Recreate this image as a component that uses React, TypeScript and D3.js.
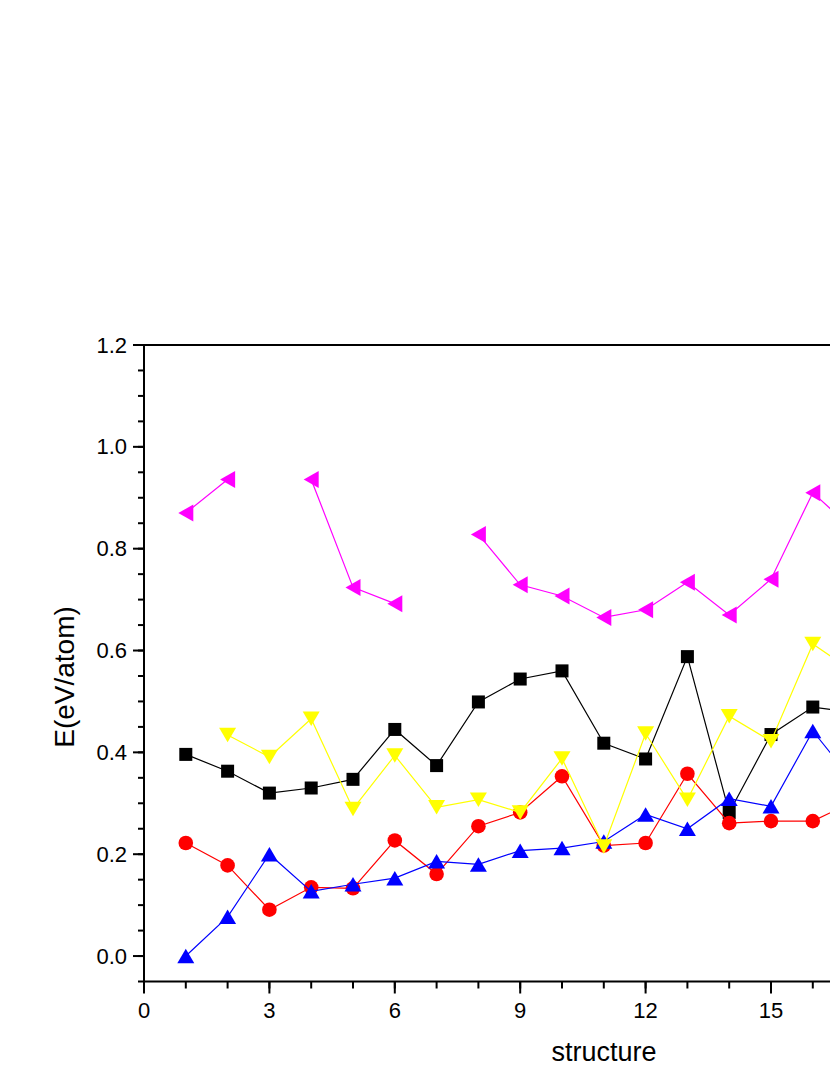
import React from "react";
import * as d3 from "d3";

const structures = [1, 2, 3, 4, 5, 6, 7, 8, 9, 10, 11, 12, 13, 14, 15, 16, 17];
const seriesBlack = [0.396, 0.363, 0.32, 0.33, 0.347, 0.445, 0.374, 0.499, 0.544, 0.56, 0.418, 0.387, 0.588, 0.282, 0.435, 0.489, 0.478];
const seriesRed = [0.222, 0.178, 0.091, 0.135, 0.133, 0.227, 0.161, 0.255, 0.282, 0.353, 0.217, 0.222, 0.358, 0.261, 0.265, 0.265, 0.304];
const seriesBlue = [0.0, 0.077, 0.2, 0.127, 0.141, 0.153, 0.186, 0.18, 0.207, 0.212, 0.225, 0.278, 0.25, 0.309, 0.294, 0.442, 0.34];
const seriesYellow = [null, 0.434, 0.391, 0.466, 0.289, 0.394, 0.292, 0.307, 0.282, 0.388, 0.215, 0.437, 0.307, 0.471, 0.422, 0.613, 0.556];
const seriesMagenta = [0.87, 0.936, null, 0.936, 0.724, 0.692, null, 0.828, 0.729, 0.707, 0.665, 0.68, 0.734, 0.67, 0.74, 0.91, 0.835];

const xTickValues = [0, 3, 6, 9, 12, 15];
const yTickValues = [0.0, 0.2, 0.4, 0.6, 0.8, 1.0, 1.2];

const W = 830;
const H = 1075;
const FONT = "'Liberation Sans', Arial, sans-serif";

type Series = { values: (number | null)[]; color: string; marker: string };

const series: Series[] = [
  { values: seriesBlack, color: "#000000", marker: "square" },
  { values: seriesRed, color: "#FF0000", marker: "circle" },
  { values: seriesBlue, color: "#0000FF", marker: "up" },
  { values: seriesYellow, color: "#FFFF00", marker: "down" },
  { values: seriesMagenta, color: "#FF00FF", marker: "left" },
];

function markerPath(kind: string, cx: number, cy: number): string {
  if (kind === "up") {
    const w = 17, h = 14.5;
    return `M${cx - w / 2},${cy + h / 2}L${cx + w / 2},${cy + h / 2}L${cx},${cy - h / 2}Z`;
  }
  if (kind === "down") {
    const w = 17, h = 14.5;
    return `M${cx - w / 2},${cy - h / 2}L${cx + w / 2},${cy - h / 2}L${cx},${cy + h / 2}Z`;
  }
  const w = 15, h = 17;
  return `M${cx + w / 2},${cy - h / 2}L${cx + w / 2},${cy + h / 2}L${cx - w / 2},${cy}Z`;
}

export default function App() {
  const x = d3.scaleLinear().domain([0, 22]).range([144, 144 + 22 * 41.8]);
  const y = d3.scaleLinear().domain([-0.05, 1.2]).range([981.5, 345]);

  const xMinor = d3.range(0, 23, 1);
  const yMinor = d3.range(-0.05, 1.2001, 0.05);

  const line = d3
    .line<number | null>()
    .defined((d) => d !== null)
    .x((_, i) => x(structures[i]))
    .y((d) => y(d as number));

  const x0 = x(0);
  const yb = y(-0.05);
  const yt = y(1.2);
  const xr = x(22);

  return (
    <svg
      width={W}
      height={H}
      style={{ position: "absolute", left: 0, top: 0, background: "#fff", overflow: "hidden" }}
    >
      <rect x={0} y={0} width={W} height={H} fill="#fff" />
      {series.map((s, si) => (
        <g key={si}>
          <path d={line(s.values) || ""} fill="none" stroke={s.color} strokeWidth={1.2} />
          {s.values.map((v, i) => {
            if (v === null) return null;
            const cx = x(structures[i]);
            const cy = y(v);
            if (s.marker === "square")
              return <rect key={i} x={cx - 6.5} y={cy - 6.5} width={13} height={13} fill={s.color} />;
            if (s.marker === "circle") return <circle key={i} cx={cx} cy={cy} r={7.3} fill={s.color} />;
            return <path key={i} d={markerPath(s.marker, cx, cy)} fill={s.color} />;
          })}
        </g>
      ))}
      <line x1={x0} x2={xr} y1={yt} y2={yt} stroke="#000" strokeWidth={2} />
      <line x1={x0} x2={x0} y1={yt - 1} y2={yb + 1} stroke="#000" strokeWidth={2} />
      <line x1={x0 - 1} x2={xr} y1={yb} y2={yb} stroke="#000" strokeWidth={2} />
      {yMinor.map((v, i) => (
        <line key={"ym" + i} x1={x0 - 6} x2={x0} y1={y(v)} y2={y(v)} stroke="#000" strokeWidth={2} />
      ))}
      {yTickValues.map((v, i) => (
        <g key={"yt" + i}>
          <line x1={x0 - 11} x2={x0} y1={y(v)} y2={y(v)} stroke="#000" strokeWidth={2} />
          <text
            x={x0 - 17}
            y={y(v)}
            textAnchor="end"
            dominantBaseline="central"
            fontFamily={FONT}
            fontSize={22}
            fill="#000"
          >
            {d3.format(".1f")(v)}
          </text>
        </g>
      ))}
      {xMinor.map((v, i) => (
        <line key={"xm" + i} x1={x(v)} x2={x(v)} y1={yb} y2={yb + 7} stroke="#000" strokeWidth={2} />
      ))}
      {xTickValues.map((v, i) => (
        <g key={"xt" + i}>
          <line x1={x(v)} x2={x(v)} y1={yb} y2={yb + 12} stroke="#000" strokeWidth={2} />
          <text x={x(v)} y={1018} textAnchor="middle" fontFamily={FONT} fontSize={22} fill="#000">
            {String(v)}
          </text>
        </g>
      ))}
      <text x={604} y={1061} textAnchor="middle" fontFamily={FONT} fontSize={27} fill="#000">
        structure
      </text>
      <text
        transform={`translate(74,677) rotate(-90)`}
        textAnchor="middle"
        fontFamily={FONT}
        fontSize={28}
        fill="#000"
      >
        E(eV/atom)
      </text>
    </svg>
  );
}
